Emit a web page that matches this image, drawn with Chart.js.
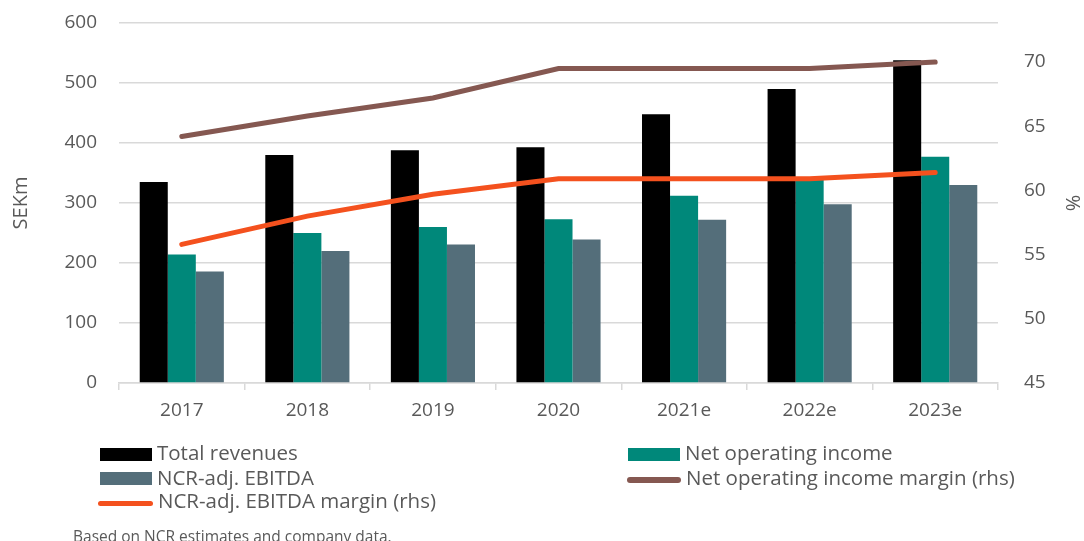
<!DOCTYPE html>
<html>
<head>
<meta charset="utf-8">
<script src="https://cdn.jsdelivr.net/npm/chart.js@4"></script>
<style>
  html,body{margin:0;padding:0;background:#fff;}
  #wrap{position:relative;width:1084px;height:541px;overflow:hidden;font-family:"Open Sans","Noto Sans",sans-serif;}
  canvas{position:absolute;left:0;top:0;}
  .lg{position:absolute;font-size:20.5px;color:#595959;line-height:24px;white-space:nowrap;}
  .sw{position:absolute;}
  #foot{position:absolute;left:73px;top:526px;font-size:15.5px;line-height:21px;color:#595959;white-space:nowrap;}
</style>
</head>
<body>
<div id="wrap">
  <canvas id="c" width="1084" height="541"></canvas>
  <div id="legend"></div>
  <div id="foot">Based on NCR estimates and company data.</div>
</div>
<script>
const categories = ["2017","2018","2019","2020","2021e","2022e","2023e"];
const totalRevenues = [335, 380, 388, 393, 448, 490, 538];
const netOperatingIncome = [214, 250, 260, 273, 312, 339, 377];
const ncrAdjEbitda = [186, 220, 231, 239, 272, 298, 330];
const noiMargin = [64.2, 65.8, 67.2, 69.5, 69.5, 69.5, 70.0];
const ebitdaMargin = [55.8, 58.0, 59.7, 60.9, 60.9, 60.9, 61.4];
const leftTicks = [0, 100, 200, 300, 400, 500, 600];
const rightTicks = [45, 50, 55, 60, 65, 70];

const colors = {
  black: "#000000",
  teal: "#00887A",
  slate: "#546E7A",
  brown: "#855851",
  orange: "#F4511E",
  grid: "#D9D9D9",
  text: "#595959"
};

const font = {family: "'Open Sans', 'Noto Sans', sans-serif", size: 19};

new Chart(document.getElementById("c"), {
  data: {
    labels: categories,
    datasets: [
      {type:"line", label:"Net operating income margin (rhs)", data: noiMargin, yAxisID:"y1",
       borderColor: colors.brown, borderWidth: 5, pointRadius: 0, borderCapStyle:"round", tension:0, order:0},
      {type:"line", label:"NCR-adj. EBITDA margin (rhs)", data: ebitdaMargin, yAxisID:"y1",
       borderColor: colors.orange, borderWidth: 5, pointRadius: 0, borderCapStyle:"round", tension:0, order:0},
      {type:"bar", label:"Total revenues", data: totalRevenues, yAxisID:"y",
       backgroundColor: colors.black, borderWidth:0, categoryPercentage:0.67, barPercentage:1, order:1},
      {type:"bar", label:"Net operating income", data: netOperatingIncome, yAxisID:"y",
       backgroundColor: colors.teal, borderWidth:0, categoryPercentage:0.67, barPercentage:1, order:1},
      {type:"bar", label:"NCR-adj. EBITDA", data: ncrAdjEbitda, yAxisID:"y",
       backgroundColor: colors.slate, borderWidth:0, categoryPercentage:0.67, barPercentage:1, order:1}
    ]
  },
  options: {
    responsive:false,
    animation:false,
    layout:{padding:{top:23,left:0,right:0,bottom:0}},
    plugins:{legend:{display:false}, tooltip:{enabled:false}},
    scales:{
      x:{
        offset:true,
        grid:{drawOnChartArea:false, color:colors.grid, tickLength:7, offset:true, lineWidth:1.5},
        border:{color:colors.grid, width:1.5},
        ticks:{color:colors.text, font:font, padding:9},
        afterFit:(s)=>{ s.height = 158; }
      },
      y:{
        position:"left", min:0, max:600,
        afterBuildTicks:(s)=>{ s.ticks = leftTicks.map(v=>({value:v})); },
        grid:{color:colors.grid, lineWidth:1.5, drawTicks:false},
        border:{display:false},
        ticks:{color:colors.text, font:font, padding:22},
        title:{display:true, text:"SEKm", color:colors.text, font:{family:font.family, size:20}, padding:{top:9,bottom:0}},
        afterFit:(s)=>{ s.width = 119; s.paddingTop = 0; s.paddingBottom = 0; }
      },
      y1:{
        position:"right", min:45, max:73.04,
        afterBuildTicks:(s)=>{ s.ticks = rightTicks.map(v=>({value:v})); },
        grid:{display:false, drawTicks:false},
        border:{display:false},
        ticks:{color:colors.text, font:font, padding:26},
        title:{display:true, text:"%", color:colors.text, font:{family:font.family, size:20}, padding:{top:0,bottom:1}},
        afterFit:(s)=>{ s.width = 86; s.paddingTop = 0; s.paddingBottom = 0; }
      }
    }
  }
});

// legend (two columns, Excel-like)
const legendItems = [
  {text:"Total revenues", kind:"bar", color:colors.black, x:100, y:452, w:52},
  {text:"Net operating income", kind:"bar", color:colors.teal, x:628, y:452, w:52},
  {text:"NCR-adj. EBITDA", kind:"bar", color:colors.slate, x:100, y:476.5, w:52},
  {text:"Net operating income margin (rhs)", kind:"line", color:colors.brown, x:627, y:476.5, w:54},
  {text:"NCR-adj. EBITDA margin (rhs)", kind:"line", color:colors.orange, x:98, y:500, w:55}
];
const lg = document.getElementById("legend");
legendItems.forEach(it=>{
  const sw = document.createElement("div");
  sw.className="sw";
  if(it.kind==="bar"){
    sw.style.cssText = `left:${it.x}px;top:${it.y-4.5}px;width:${it.w}px;height:13px;background:${it.color};`;
  } else {
    sw.style.cssText = `left:${it.x}px;top:${it.y+0.5}px;width:${it.w}px;height:5.5px;border-radius:3px;background:${it.color};`;
  }
  lg.appendChild(sw);
  const t = document.createElement("div");
  t.className="lg";
  t.style.left = (it.x+it.w+5)+"px";
  t.style.top = (it.y-12)+"px";
  t.textContent = it.text;
  lg.appendChild(t);
});
</script>
</body>
</html>
